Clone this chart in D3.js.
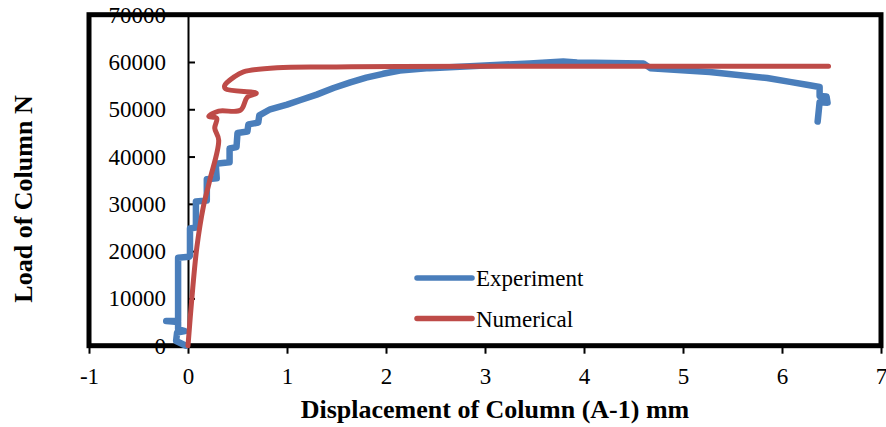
<!DOCTYPE html>
<html>
<head>
<meta charset="utf-8">
<script src="https://cdn.jsdelivr.net/npm/d3@7"></script>
<style>
  html, body { margin: 0; padding: 0; background: #fff; }
  svg { display: block; }
  svg text { font-family: "Liberation Serif", "Times New Roman", serif; }
</style>
</head>
<body>
<svg id="chart" width="886" height="427"></svg>
<script>
// ---- Data ----
const seriesNames = ["Experiment", "Numerical"];
const seriesColors = ["#4A7EBB", "#BE4B48"];

const experimentX = [-0.02, -0.12, -0.11, -0.03, -0.10, -0.10, -0.22, -0.10, -0.10, -0.10, 0.01, 0.02, 0.02, 0.08, 0.08, 0.19, 0.19, 0.29, 0.28, 0.42, 0.42, 0.49, 0.50, 0.60, 0.61, 0.71, 0.72, 0.83, 1.00, 1.13, 1.30, 1.47, 1.64, 1.80, 1.97, 2.14, 2.44, 2.95, 3.45, 3.79, 3.93, 4.60, 4.67, 5.27, 5.85, 6.08, 6.25, 6.38, 6.38, 6.45, 6.46, 6.38, 6.36];
const experimentY = [0, 1000, 2800, 3100, 3500, 5000, 5200, 5300, 18000, 18600, 18800, 19000, 24800, 25000, 30500, 30700, 35200, 35400, 38500, 38800, 41700, 42000, 45000, 45300, 46800, 47200, 48700, 50000, 51000, 51900, 53100, 54500, 55700, 56700, 57500, 58200, 58700, 59200, 59700, 60100, 59900, 59700, 58700, 57900, 56600, 55800, 55200, 54700, 52800, 52700, 51400, 51500, 47400];

const numericalX = [0, 0.04, 0.09, 0.155, 0.22, 0.31, 0.27, 0.29, 0.21, 0.31, 0.53, 0.60, 0.69, 0.38, 0.37, 0.47, 0.56, 0.90, 1.5, 2.14, 3, 4, 5, 6, 6.47];
const numericalY = [0, 10300, 20900, 29400, 35000, 43500, 46000, 48100, 48500, 49600, 49800, 52600, 53400, 54300, 55000, 56900, 57900, 58800, 58950, 59050, 59100, 59100, 59100, 59100, 59100];

const xTicks = [-1, 0, 1, 2, 3, 4, 5, 6, 7];
const xTickLabels = ["-1", "0", "1", "2", "3", "4", "5", "6", "7"];
const yTicks = [0, 10000, 20000, 30000, 40000, 50000, 60000, 70000];
const xTitle = "Displacement of Column (A-1) mm";
const yTitle = "Load of Column N";

const FONT = "Liberation Serif, Times New Roman, serif";

// ---- Layout ----
const svg = d3.select("#chart");
const L = 89, R = 881, T = 14.7, B = 345.7;

const x = d3.scaleLinear().domain([-1, 7]).range([L, R]);
const y = d3.scaleLinear().domain([0, 70000]).range([B, T]);

// x axis ticks (outside, below frame)
const xAxis = d3.axisBottom(x).tickValues(xTicks).tickSize(7).tickPadding(14)
  .tickFormat((d, i) => xTickLabels[i]);
const gx = svg.append("g").attr("transform", `translate(0,${B + 1})`).call(xAxis)
  .attr("font-family", FONT);
gx.select(".domain").remove();
gx.selectAll(".tick line").attr("stroke", "#000").attr("stroke-width", 2);
gx.selectAll(".tick text").attr("font-size", 23).attr("fill", "#000").attr("font-family", FONT);

// vertical axis at x = 0, ticks pointing right
const yAxis = d3.axisRight(y).tickValues(yTicks).tickSize(7).tickFormat("");
const gy = svg.append("g").attr("transform", `translate(${x(0)},0)`).call(yAxis);
gy.select(".domain").attr("stroke", "#000").attr("stroke-width", 2);
gy.selectAll(".tick line").attr("stroke", "#000").attr("stroke-width", 2);

// frame
svg.append("rect").attr("x", L).attr("y", T).attr("width", R - L).attr("height", B - T)
  .attr("fill", "none").attr("stroke", "#000").attr("stroke-width", 5);

// y tick labels (right-aligned, left of axis)
svg.append("g").selectAll("text").data(yTicks).join("text")
  .attr("x", x(0) - 22).attr("y", d => y(d))
  .attr("dy", "0.35em").attr("text-anchor", "end")
  .attr("font-size", 23).attr("fill", "#000").attr("font-family", FONT)
  .text(d => d);

// lines
const line = d3.line().x(d => x(d[0])).y(d => y(d[1])).curve(d3.curveLinear);
const expData = experimentX.map((v, i) => [v, experimentY[i]]);
const numData = numericalX.map((v, i) => [v, numericalY[i]]);

svg.append("path").datum(expData).attr("d", line)
  .attr("fill", "none").attr("stroke", seriesColors[0]).attr("stroke-width", 6.5)
  .attr("stroke-linejoin", "round").attr("stroke-linecap", "round");
svg.append("path").datum(numData).attr("d", line.curve(d3.curveCatmullRom.alpha(0.5)))
  .attr("fill", "none").attr("stroke", seriesColors[1]).attr("stroke-width", 5)
  .attr("stroke-linejoin", "round").attr("stroke-linecap", "round");

// legend
const legend = svg.append("g");
seriesNames.forEach((name, i) => {
  const ly = 278 + i * 40.5;
  legend.append("line").attr("x1", 417).attr("x2", 472).attr("y1", ly).attr("y2", ly)
    .attr("stroke", seriesColors[i]).attr("stroke-width", 5.5).attr("stroke-linecap", "round");
  legend.append("text").attr("x", 476).attr("y", ly).attr("dy", "0.35em")
    .attr("font-size", 23).attr("fill", "#000").attr("font-family", FONT).text(name);
});

// axis titles
svg.append("text").attr("x", 495).attr("y", 418).attr("text-anchor", "middle")
  .attr("font-size", 26).attr("font-weight", "bold").attr("fill", "#000")
  .attr("font-family", FONT).text(xTitle);
svg.append("text").attr("transform", `translate(32,199) rotate(-90)`).attr("text-anchor", "middle")
  .attr("font-size", 26).attr("font-weight", "bold").attr("fill", "#000")
  .attr("font-family", FONT).text(yTitle);
</script>
</body>
</html>
